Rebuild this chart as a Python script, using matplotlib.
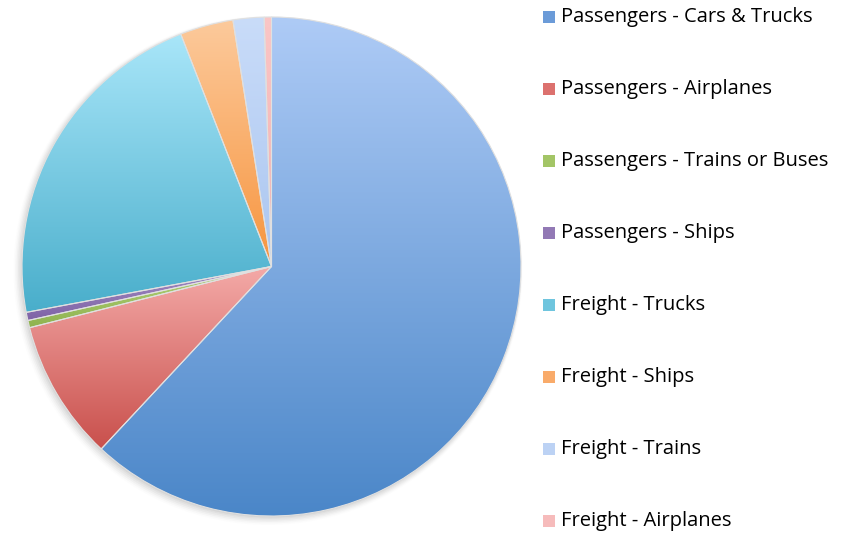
import numpy as np
import matplotlib
matplotlib.use("Agg")
import matplotlib.pyplot as plt
from matplotlib.colors import LinearSegmentedColormap
from matplotlib.patches import Rectangle, Circle

labels = ["Passengers - Cars & Trucks", "Passengers - Airplanes",
          "Passengers - Trains or Buses", "Passengers - Ships",
          "Freight - Trucks", "Freight - Ships", "Freight - Trains",
          "Freight - Airplanes"]
values = [61.9, 9.1, 0.47, 0.53, 22.0, 3.45, 2.0, 0.47]
top_colors = ["#AECBF6", "#F4AAA8", "#B3D27A", "#A48DC4", "#A9E6F9", "#FCCA9C", "#C9DCF9", "#FAC6C6"]
bot_colors = ["#4A86C8", "#C9504C", "#8FB34F", "#7E63A6", "#49AECB", "#F7953F", "#ABC6F0", "#F2AFAF"]
legend_colors = ["#6B9BD8", "#DC716E", "#A3C566", "#9279B5", "#6FC5DE", "#F9AB6A", "#BCD2F4", "#F6BBBB"]

fig = plt.figure(figsize=(8.45, 5.33), dpi=100)
W, H = 845, 533
cx, cy, r = 271.5, 266.5, 249.5
ax = fig.add_axes([(cx - r) / W, (H - cy - r) / H, 2 * r / W, 2 * r / H])
ax.set_xlim(-1, 1)
ax.set_ylim(-1, 1)
ax.set_aspect("equal")
ax.axis("off")

# soft shadow
for k, a in enumerate(np.linspace(0.10, 0.02, 6)):
    ax.add_patch(Circle((-0.004 - 0.002 * k, -0.006 - 0.002 * k), 1.0 + 0.004 * k,
                        facecolor="#808080", edgecolor="none", alpha=a, zorder=0,
                        clip_on=False))

wedges, _ = ax.pie(values, startangle=90, counterclock=False, radius=1.0,
                   wedgeprops=dict(edgecolor="#E0E0E0", linewidth=0.8))

grad = np.linspace(1, 0, 256).reshape(-1, 1)
for w, tc, bc in zip(wedges, top_colors, bot_colors):
    w.set_facecolor("none")
    w.set_zorder(3)
    path = w.get_path()
    verts = w.get_patch_transform().transform(path.vertices)
    y0, y1 = verts[:, 1].min(), verts[:, 1].max()
    cmap = LinearSegmentedColormap.from_list("g", [bc, tc])
    im = ax.imshow(grad, cmap=cmap, extent=[-1, 1, y0, y1], aspect="auto",
                   origin="upper", zorder=2, interpolation="bilinear")
    im.set_clip_path(w)
ax.set_xlim(-1, 1)
ax.set_ylim(-1, 1)

# legend
leg_y0 = 17
pitch = 72
for i, (lab, c) in enumerate(zip(labels, legend_colors)):
    yc = leg_y0 + i * pitch
    fig.patches.append(Rectangle((543 / W, (H - yc - 6) / H), 12 / W, 12 / H,
                                 facecolor=c, edgecolor="none",
                                 transform=fig.transFigure, figure=fig))
    fig.text(561 / W, (H - yc) / H, lab, fontsize=14.5, family="Open Sans",
             va="center", ha="left", color="#000000")

fig.savefig("out.png", dpi=100)
